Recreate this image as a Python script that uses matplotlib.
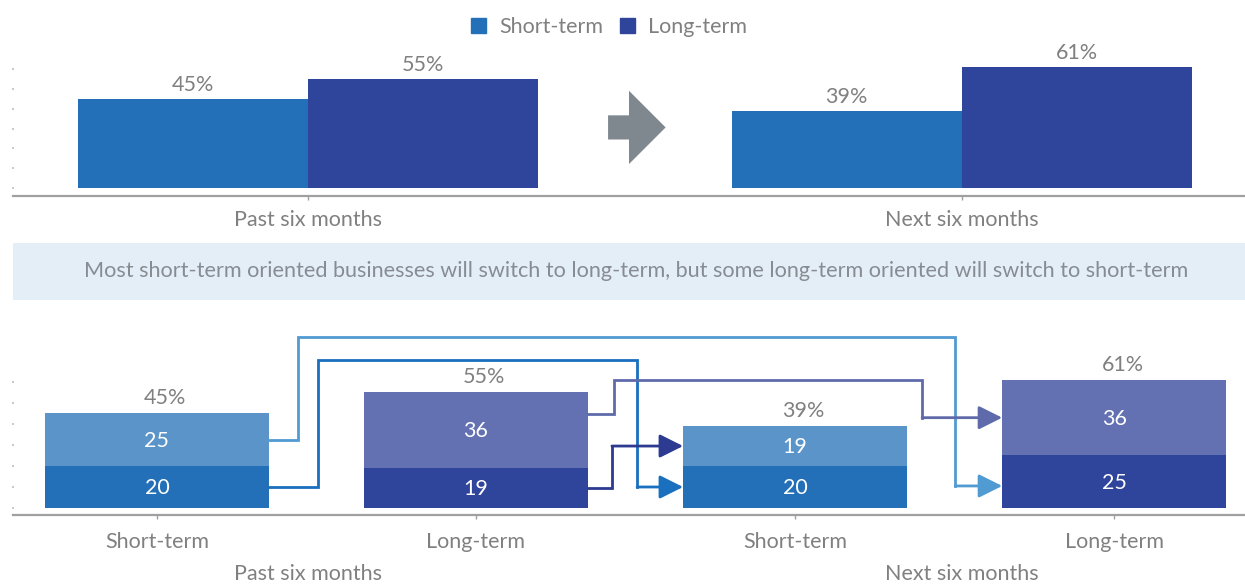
import numpy as np
import matplotlib.pyplot as plt
from matplotlib.patches import Patch, Rectangle, Polygon
from matplotlib import transforms

plt.rcParams['font.family'] = ['Lato', 'DejaVu Sans']

# ---- data ----
periods = ["Past six months", "Next six months"]
series = ["Short-term", "Long-term"]
short_share = [45, 39]
long_share = [55, 61]

flow_cats = ["Short-term", "Long-term", "Short-term", "Long-term"]
lower_vals = [20, 19, 20, 25]
upper_vals = [25, 36, 19, 36]
totals = [45, 55, 39, 61]

# flows: (from bar, from segment, to bar, to segment)
flows = [(0, "upper", 3, "lower"),
         (0, "lower", 2, "lower"),
         (1, "upper", 3, "upper"),
         (1, "lower", 2, "upper")]

# ---- styles ----
c_short = "#2470b8"
c_long = "#2f449b"
c_short_lt = "#5b94c9"
c_long_lt = "#6371b3"
flow_colors = ["#4f9bd2", "#1a6fbf", "#5f6aab", "#2c3a92"]
flow_x1 = [0.442, 0.505, 1.433, 1.426]
flow_x2 = [2.502, 1.505, 2.398, None]
flow_level = [81.4, 70.5, 61.0, None]
start_frac = [0.5, 0.5, 0.72, 0.5]
end_frac = [0.42, 0.5, 0.5, 0.5]
grey = "#808080"
axis_grey = "#a0a0a0"
fs = 15.5

W, H = 1245, 585
fig = plt.figure(figsize=(W / 100, H / 100), dpi=100)


def fx(px):
    return px / W


def fy(py):
    return 1 - py / H


def style_axis(ax):
    for s in ["top", "right", "left"]:
        ax.spines[s].set_visible(False)
    ax.spines["bottom"].set_color(axis_grey)
    ax.spines["bottom"].set_linewidth(1.6)
    ax.set_yticks(range(0, 70, 10))
    ax.tick_params(axis="y", length=2, width=1.2, color="#c0c0c0",
                   direction="inout", labelleft=False)
    ax.tick_params(axis="x", length=3, width=1, color=axis_grey,
                   labelcolor=grey, labelsize=fs)


# ---- top chart ----
ax1 = fig.add_axes([fx(13), fy(196), 1 - fx(13), (196 - 50) / H])
x = np.arange(len(periods))
bw = 0.352
b1 = ax1.bar(x - bw / 2, short_share, bw, color=c_short, label=series[0])
b2 = ax1.bar(x + bw / 2, long_share, bw, color=c_long, label=series[1])
for bars in (b1, b2):
    for r in bars:
        ax1.annotate(f"{r.get_height():.0f}%",
                     (r.get_x() + r.get_width() / 2, r.get_height()),
                     xytext=(0, 10), textcoords="offset points",
                     ha="center", va="center", color=grey, fontsize=fs)
ax1.set_xlim(-0.451, 1.433)
ax1.set_ylim(-4.04, 69.7)
style_axis(ax1)
ax1.set_xticks(x)
ax1.set_xticklabels(periods)
ax1.tick_params(axis="x", pad=7)

# block arrow between the two groups
cx, cy = 0.503, 30.6
arrow_pts = [(cx - 0.044, cy + 6.1), (cx - 0.012, cy + 6.1), (cx - 0.012, cy + 18.5),
             (cx + 0.044, cy), (cx - 0.012, cy - 18.5), (cx - 0.012, cy - 6.1),
             (cx - 0.044, cy - 6.1)]
ax1.add_patch(Polygon(arrow_pts, closed=True, color="#7f878f", lw=0))

fig.legend(handles=[Patch(color=c_short), Patch(color=c_long)], labels=series,
           loc="center", bbox_to_anchor=(fx(609), fy(27)), ncol=2, frameon=False,
           handlelength=0.7, handleheight=0.7, handletextpad=0.6,
           columnspacing=0.8, labelcolor=grey, fontsize=fs)

# ---- banner ----
fig.add_artist(Rectangle((fx(13), fy(300)), 1 - fx(13), 57 / H,
                         transform=fig.transFigure, color="#e4eef7", lw=0, zorder=0))
fig.text(fx(636), fy(271),
         "Most short-term oriented businesses will switch to long-term, "
         "but some long-term oriented will switch to short-term",
         ha="center", va="center", color="#878c93", fontsize=15.6)

# ---- bottom chart ----
ax2 = fig.add_axes([fx(13), fy(515), 1 - fx(13), (515 - 320) / H])
x2 = np.arange(len(flow_cats))
w2 = 0.702
lower_cols = [c_short, c_long, c_short, c_long]
upper_cols = [c_short_lt, c_long_lt, c_short_lt, c_long_lt]
ax2.bar(x2, lower_vals, w2, color=lower_cols)
ax2.bar(x2, upper_vals, w2, bottom=lower_vals, color=upper_cols)
for i in range(len(x2)):
    ax2.text(x2[i], lower_vals[i] / 2 - 0.5, str(lower_vals[i]), ha="center",
             va="center", color="white", fontsize=fs)
    ax2.text(x2[i], lower_vals[i] + upper_vals[i] / 2 - 0.5, str(upper_vals[i]),
             ha="center", va="center", color="white", fontsize=fs)
    ax2.annotate(f"{totals[i]}%", (x2[i], totals[i]), xytext=(6, 11),
                 textcoords="offset points", ha="center", va="center",
                 color=grey, fontsize=fs)
ax2.set_xlim(-0.451, 3.41)
ax2.set_ylim(-3.33, 89.5)
style_axis(ax2)
ax2.set_xticks(x2)
ax2.set_xticklabels(flow_cats)
ax2.tick_params(axis="x", pad=9)


def seg_y(bar, seg, frac):
    if seg == "lower":
        return lower_vals[bar] * frac
    return lower_vals[bar] + upper_vals[bar] * frac


for k, (a, sa, b, sb) in enumerate(flows):
    y0 = seg_y(a, sa, start_frac[k])
    y1 = seg_y(b, sb, end_frac[k])
    xs = [a + w2 / 2, flow_x1[k]]
    ys = [y0, y0]
    if flow_level[k] is not None:
        xs += [flow_x1[k], flow_x2[k], flow_x2[k]]
        ys += [flow_level[k], flow_level[k], y1]
        last_x = flow_x2[k]
    else:
        xs += [flow_x1[k]]
        ys += [y1]
        last_x = flow_x1[k]
    ax2.plot(xs, ys, color=flow_colors[k], lw=2, solid_joinstyle="miter", zorder=3)
    ax2.annotate("", xy=(b - w2 / 2, y1), xytext=(last_x, y1),
                 arrowprops=dict(arrowstyle="-|>,head_length=0.8,head_width=0.4",
                                 color=flow_colors[k], lw=2, mutation_scale=18,
                                 shrinkA=0, shrinkB=0), zorder=3)

# group labels under bottom chart, aligned with top chart groups
tr = transforms.blended_transform_factory(ax1.transData, fig.transFigure)
for i, p in enumerate(periods):
    fig.text(x[i], fy(574), p, transform=tr, ha="center", va="center",
             color=grey, fontsize=fs)

fig.savefig("out.png", dpi=100)
